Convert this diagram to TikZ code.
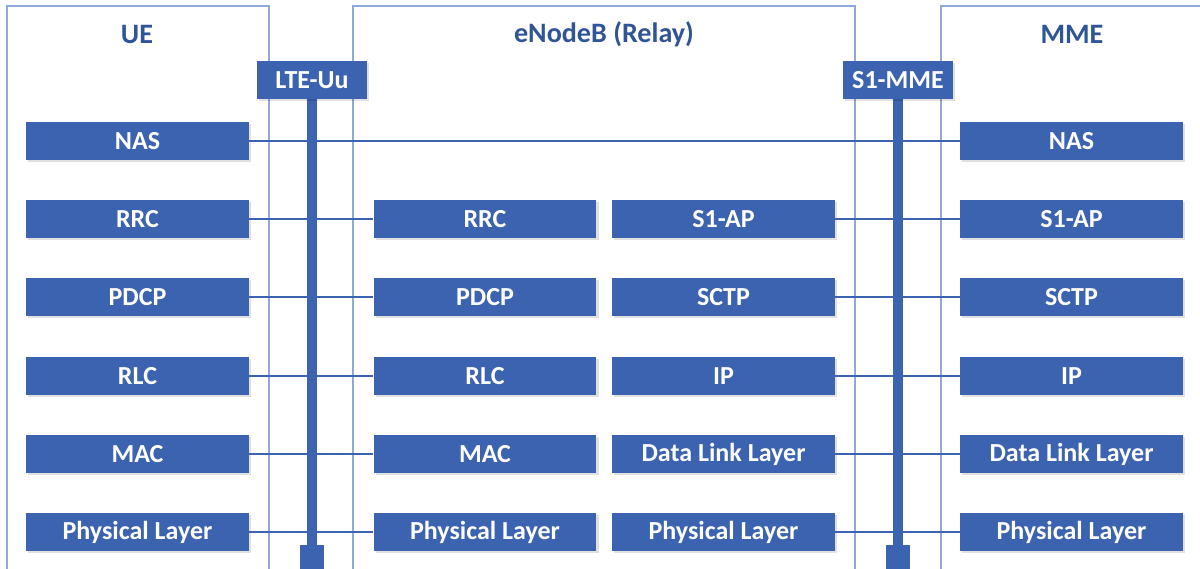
\documentclass[tikz,border=0pt]{standalone}
\usepackage{fontspec}
\setmainfont{Carlito}
\usetikzlibrary{shadows}
\definecolor{layerblue}{RGB}{59,99,176}
\definecolor{frameblue}{RGB}{143,170,218}
\definecolor{titleblue}{RGB}{47,85,151}

\begin{document}
\begin{tikzpicture}[x=0.02cm,y=-0.02cm,
    frame/.style={draw=frameblue,line width=0.9pt},
    title/.style={text=titleblue,font=\fontsize{16}{19}\selectfont\bfseries},
    layer/.style={fill=layerblue,text=white,font=\fontsize{14.8}{17}\selectfont\bfseries,
                  minimum width=4.46cm,minimum height=0.76cm,inner sep=0pt,
                  drop shadow={shadow xshift=1.2pt,shadow yshift=-1.2pt,fill=black,opacity=0.12}},
    iface/.style={layer,minimum width=2.2cm},
    link/.style={draw=layerblue,line width=1.1pt},
    bar/.style={draw=layerblue,line width=5.7pt},
    foot/.style={fill=layerblue,minimum width=0.48cm,minimum height=0.6cm,inner sep=0pt}]

    \useasboundingbox (0,0) rectangle (1200,568);
    \clip (0,0) rectangle (1200,568);

    % the three network elements
    \draw[frame] (7,6) rectangle (269,620);
    \node[title] (ue) at (137,34) {UE};

    \draw[frame] (353,6) rectangle (855,620);
    \node[title] (enb) at (604,34) {eNodeB (Relay)};

    \draw[frame] (941,6) rectangle (1230,620);
    \node[title] (mme) at (1072,34) {MME};

    % UE stack
    \node[layer] (ue-nas)  at (137.5,141) {NAS};
    \node[layer] (ue-rrc)  at (137.5,219) {RRC};
    \node[layer] (ue-pdcp) at (137.5,297) {PDCP};
    \node[layer] (ue-rlc)  at (137.5,376) {RLC};
    \node[layer] (ue-mac)  at (137.5,454) {MAC};
    \node[layer] (ue-phy)  at (137.5,532) {Physical Layer};

    % eNodeB, radio side
    \node[layer] (enb-rrc)  at (485,219) {RRC};
    \node[layer] (enb-pdcp) at (485,297) {PDCP};
    \node[layer] (enb-rlc)  at (485,376) {RLC};
    \node[layer] (enb-mac)  at (485,454) {MAC};
    \node[layer] (enb-phy)  at (485,532) {Physical Layer};

    % eNodeB, S1 side
    \node[layer] (enb-s1ap) at (723.5,219) {S1-AP};
    \node[layer] (enb-sctp) at (723.5,297) {SCTP};
    \node[layer] (enb-ip)   at (723.5,376) {IP};
    \node[layer] (enb-dl)   at (723.5,454) {Data Link Layer};
    \node[layer] (enb-phy2) at (723.5,532) {Physical Layer};

    % MME stack
    \node[layer] (mme-nas)  at (1071.5,141) {NAS};
    \node[layer] (mme-s1ap) at (1071.5,219) {S1-AP};
    \node[layer] (mme-sctp) at (1071.5,297) {SCTP};
    \node[layer] (mme-ip)   at (1071.5,376) {IP};
    \node[layer] (mme-dl)   at (1071.5,454) {Data Link Layer};
    \node[layer] (mme-phy)  at (1071.5,532) {Physical Layer};

    % peer links
    \draw[link] (ue-nas) -- (mme-nas);
    \draw[link] (ue-rrc) -- (enb-rrc);
    \draw[link] (ue-pdcp) -- (enb-pdcp);
    \draw[link] (ue-rlc) -- (enb-rlc);
    \draw[link] (ue-mac) -- (enb-mac);
    \draw[link] (ue-phy) -- (enb-phy);

    \draw[link] (enb-s1ap) -- (mme-s1ap);
    \draw[link] (enb-sctp) -- (mme-sctp);
    \draw[link] (enb-ip) -- (mme-ip);
    \draw[link] (enb-dl) -- (mme-dl);
    \draw[link] (enb-phy2) -- (mme-phy);

    % interfaces
    \node[foot] (uu-foot) at (312,560) {};
    \node[foot] (s1-foot) at (898,560) {};
    \draw[bar] (312,99) -- (uu-foot.north);
    \draw[bar] (898,99) -- (s1-foot.north);

    \node[iface] (uu) at (312,80) {LTE-Uu};
    \node[iface] (s1) at (898,80) {S1-MME};

\end{tikzpicture}
\end{document}
